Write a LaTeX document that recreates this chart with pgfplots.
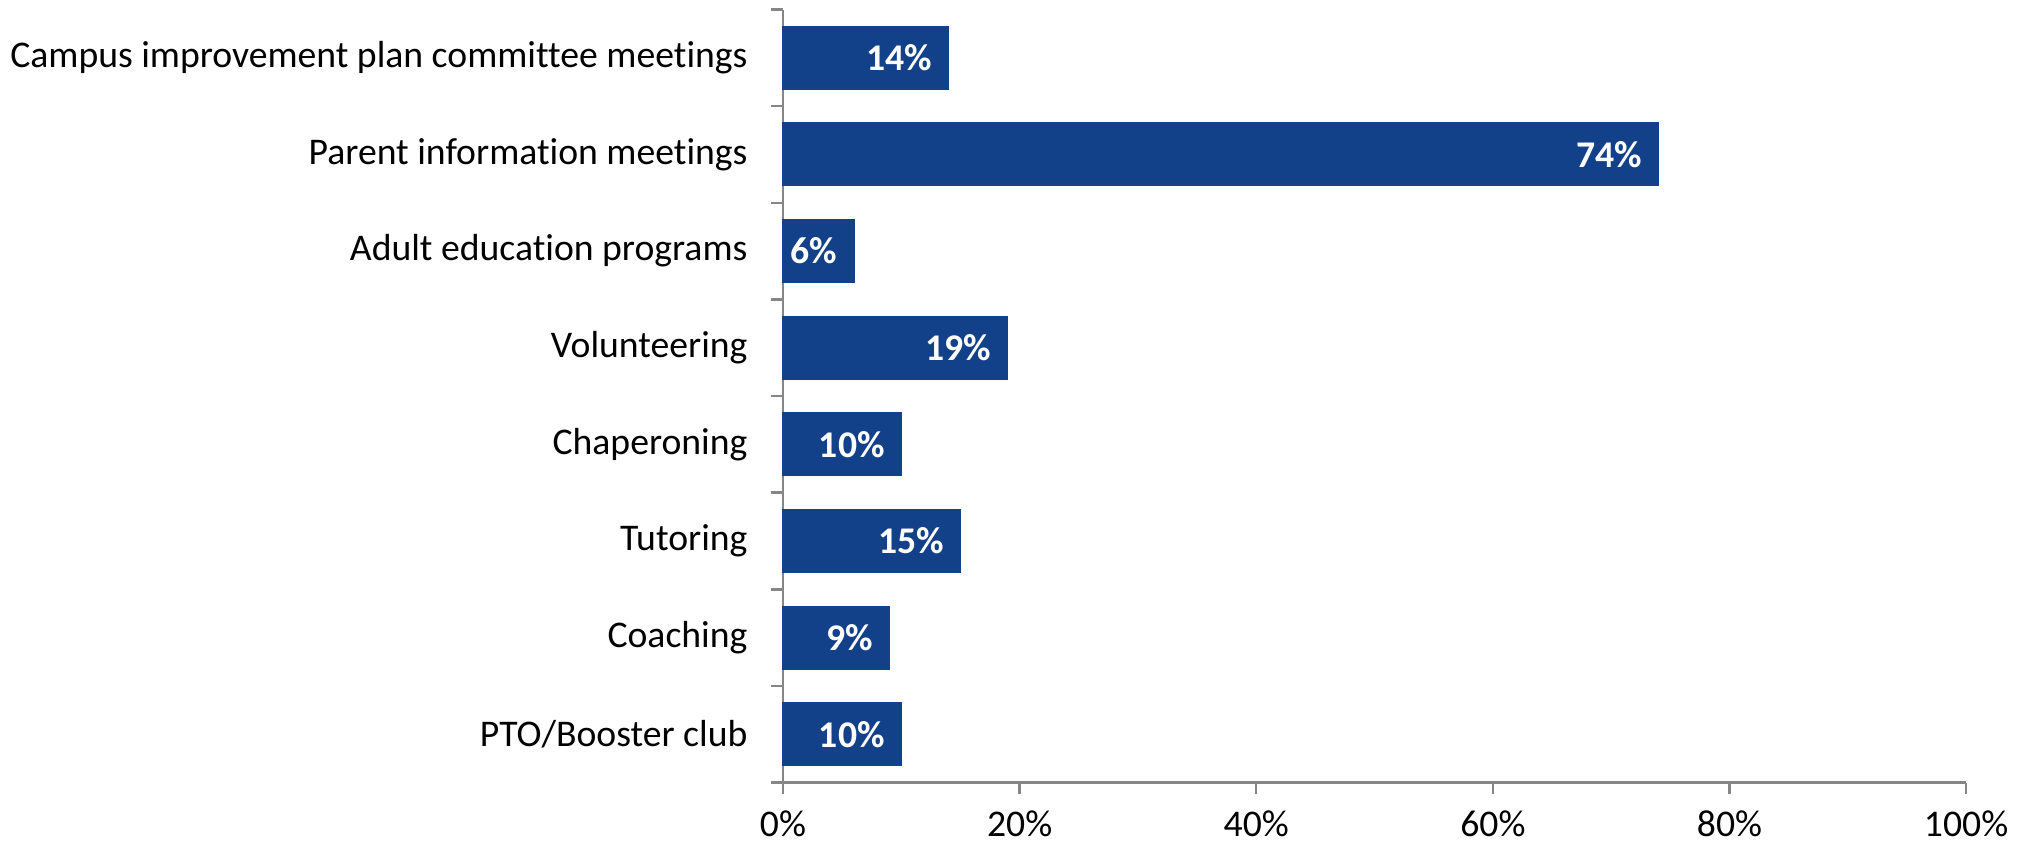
\documentclass[border=0pt]{standalone}
\usepackage{pgfplots}
\pgfplotsset{compat=1.18}
\usepackage{fontspec}
\setmainfont{Carlito}[RawFeature={-liga;-clig;-calt}]
\definecolor{barblue}{RGB}{19,65,137}
\definecolor{axgray}{RGB}{134,134,134}
\begin{document}
\begin{tikzpicture}
\begin{axis}[
  scale only axis,
  width=427pt, height=279pt,
  xbar, bar width=22.7pt,
  xmin=0, xmax=100,
  ymin=-0.5, ymax=7.5,
  axis x line*=bottom, axis y line*=left,
  axis line style={axgray, line width=0.9pt},
  xtick={0,20,40,60,80,100},
  xticklabel={\pgfmathprintnumber{\tick}\%},
  x tick label style={yshift=-2.5pt},
  ytick={-0.5,0.5,...,7.5},
  yticklabels={},
  extra y ticks={0,1,2,3,4,5,6,7},
  extra y tick labels={PTO/Booster club, Coaching, Tutoring, Chaperoning, Volunteering, Adult education programs, Parent information meetings, Campus improvement plan committee meetings},
  extra y tick style={tick style={draw=none}, y tick label style={xshift=-5pt}},
  major tick length=4.3pt,
  tick align=outside,
  tick style={axgray, line width=0.9pt},
  ticklabel style={font=\fontsize{13.6pt}{16pt}\selectfont},
  /pgf/number format/assume math mode=true,
  nodes near coords={\textbf{\pgfmathprintnumber{\pgfplotspointmeta}\%}},
  nodes near coords style={anchor=east, xshift=-2.5pt, white, font=\fontsize{13.6pt}{16pt}\selectfont\bfseries},
  clip=false,
]
\addplot[fill=barblue, draw=barblue] coordinates {
  (10,0) (9,1) (15,2) (10,3) (19,4) (6,5) (74,6) (14,7)
};
\end{axis}
\pgfresetboundingbox
\path (current axis.south west) ++(-282.6pt,-22.7pt) rectangle ++(731bp,304bp);
\end{tikzpicture}
\end{document}
